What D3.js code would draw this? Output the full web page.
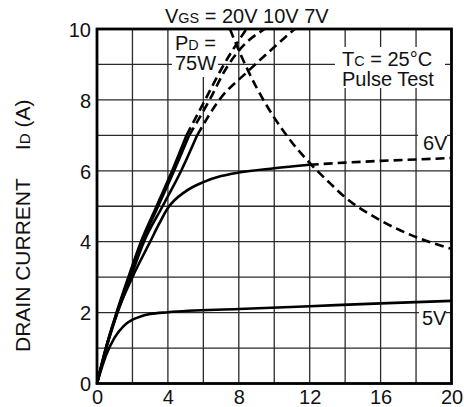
<!DOCTYPE html>
<html><head><meta charset="utf-8">
<script src="https://cdn.jsdelivr.net/npm/d3@7"></script>
<style>
body{margin:0;background:#fff}
svg{display:block}
text{font-family:"Liberation Sans",Arial,Helvetica,sans-serif;fill:#111}
</style>
</head><body><svg id="c" width="464" height="407"></svg>
<script>
// ---- data (VDS in V, ID in A) ----
const xTickValues = [0, 4, 8, 12, 16, 20];
const yTickValues = [0, 2, 4, 6, 8, 10];
const xGridValues = [0, 2, 4, 6, 8, 10, 12, 14, 16, 18, 20];
const yGridValues = [0, 1, 2, 3, 4, 5, 6, 7, 8, 9, 10];

const seriesNames = ["20V", "10V", "7V", "6V", "5V"];
const curve20V = [[0,0],[0.5,1.0],[1.1,2],[1.77,3],[2.48,4],[3.36,5],[4.24,6],[5.05,7],[6.1,8],[7.05,8.9],[8.43,10]];
const curve10V = [[0,0],[0.5,1.0],[1.12,2],[1.82,3],[2.55,4],[3.45,5],[4.35,6],[5.2,7],[6.35,8],[7.3,8.9],[8.2,9.5],[9.46,10]];
const curve7V  = [[0,0],[0.5,0.98],[1.15,2],[1.9,3],[2.65,4],[3.7,5],[4.75,6],[5.65,7],[6.9,8],[8.5,8.8],[9.8,9.4],[11.15,10]];
const curve6V  = [[0,0],[0.5,0.95],[1.15,2],[2.0,3],[3.0,4.0],[3.5,4.5],[4,4.95],[5,5.42],[6,5.68],[7,5.85],[8,5.95],[10,6.07],[12,6.17],[14,6.23],[16,6.28],[18,6.32],[20,6.36]];
const curve5V  = [[0,0],[0.5,0.78],[1,1.3],[1.5,1.62],[2,1.8],[2.5,1.9],[3,1.96],[4,2.01],[8,2.1],[12,2.18],[16,2.26],[20,2.33]];
const dashFromVds = [5.05, 5.2, 5.65, 12, 99];   // where each curve turns dashed
const curvePd75W = [[7.5,10],[8,9.4],[9,8.35],[10,7.5],[11,6.8],[12,6.22],[13,5.72],[14,5.25],[16,4.6],[18,4.13],[20,3.8]];

// ---- layout ----
const svg = d3.select("#c");
const L = 97, R = 451.5, T = 29, B = 383.5;
const x = d3.scaleLinear().domain([0, 20]).range([L, R]);
const y = d3.scaleLinear().domain([0, 10]).range([B, T]);
const FS = 20;

// grid (drawn as paths)
const gp = d3.path();
xGridValues.forEach(v => { gp.moveTo(x(v), T); gp.lineTo(x(v), B); });
yGridValues.forEach(v => { gp.moveTo(L, y(v)); gp.lineTo(R, y(v)); });
svg.append("path").attr("d", gp.toString())
  .attr("fill", "none").attr("stroke", "#2a2a2a").attr("stroke-width", 1.3);

// white boxes behind in-plot labels
const boxes = [[172, 30, 46, 47], [335, 47, 110, 41], [418, 133, 29, 19], [419, 308, 27, 20]];
boxes.forEach(d => {
  svg.append("rect").attr("x", d[0]).attr("y", d[1]).attr("width", d[2]).attr("height", d[3])
    .attr("fill", "#fff");
});

// curves
const lineGen = d3.line().x(d => x(d[0])).y(d => y(d[1])).curve(d3.curveMonotoneX);
const curves = [curve20V, curve10V, curve7V, curve6V, curve5V];
curves.forEach((c, i) => {
  const s = dashFromVds[i];
  const solid = c.filter(p => p[0] <= s);
  const dashed = c.filter(p => p[0] >= s);
  svg.append("path").attr("d", lineGen(solid)).attr("fill", "none")
    .attr("stroke", "#000").attr("stroke-width", 2.6).attr("stroke-linejoin", "round");
  if (dashed.length > 1)
    svg.append("path").attr("d", lineGen(dashed)).attr("fill", "none")
      .attr("stroke", "#000").attr("stroke-width", 2.6).attr("stroke-dasharray", "9,5");
});
svg.append("path").attr("d", lineGen(curvePd75W)).attr("fill", "none")
  .attr("stroke", "#000").attr("stroke-width", 2.6).attr("stroke-dasharray", "9,5");

// frame
svg.append("rect").attr("x", L).attr("y", T).attr("width", R - L).attr("height", B - T)
  .attr("fill", "none").attr("stroke", "#000").attr("stroke-width", 2.8);

// axes tick labels
const xAxis = d3.axisBottom(x).tickValues(xTickValues).tickSize(0).tickPadding(0);
const ax = svg.append("g").attr("transform", `translate(0,${B})`).call(xAxis);
ax.select(".domain").remove();
ax.selectAll("text").attr("font-size", FS).attr("dy", "0").attr("y", 20).style("fill", "#111");
const yAxis = d3.axisLeft(y).tickValues(yTickValues).tickSize(0).tickPadding(0);
const ay = svg.append("g").attr("transform", `translate(${L - 6},0)`).call(yAxis);
ay.select(".domain").remove();
ay.selectAll("text").attr("font-size", FS).style("fill", "#111").attr("dy", "0.36em");
svg.selectAll(".tick text").style("font-family", '"Liberation Sans",Arial,sans-serif');

// helper for text lines with small-letter subscripts; lines = [[baselineY, parts], ...]
function label(xp, lines) {
  const t = svg.append("text").attr("x", xp).attr("font-size", FS);
  lines.forEach((ln) => {
    ln[1].forEach((p, pi) => {
      const sp = t.append("tspan").text(p[0]).attr("font-size", p[1] ? FS * 0.72 : FS);
      if (pi === 0) sp.attr("x", xp).attr("y", ln[0]);
    });
  });
  return t;
}
label(165, [[23, [["V"], ["GS", 1], [" = 20V 10V 7V"]]]]);
label(175, [[50, [["P"], ["D", 1], [" ="]]], [70, [["75W"]]]]);
label(342, [[66, [["T"], ["C", 1], [" = 25°C"]]], [86, [["Pulse Test"]]]]);
label(423, [[150, [["6V"]]]]);
label(422, [[325, [["5V"]]]]);

// y title
const TFS = 21;
const yt = svg.append("text").attr("transform", "translate(30,352) rotate(-90)")
  .attr("text-anchor", "start").attr("font-size", TFS);
yt.append("tspan").text("DRAIN CURRENT");
yt.append("tspan").text("I").attr("dx", 28);
yt.append("tspan").text("D").attr("font-size", TFS * 0.72);
yt.append("tspan").text(" (A)");
</script>
</body></html>
